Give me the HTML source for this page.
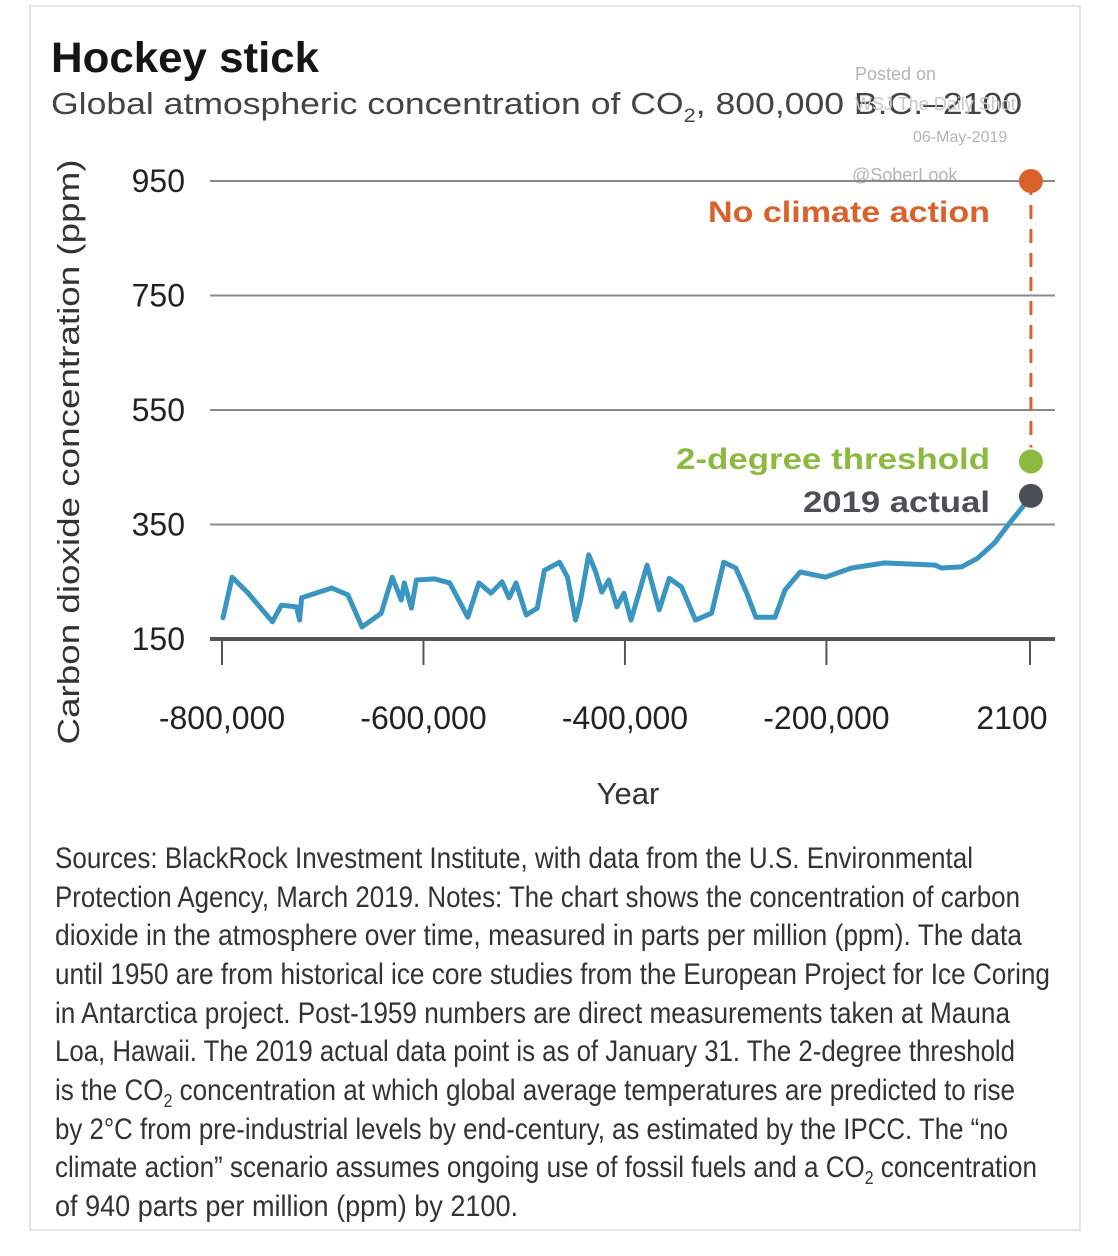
<!DOCTYPE html>
<html><head><meta charset="utf-8"><style>
html,body{margin:0;padding:0;background:#fff;}
svg{display:block;font-family:"Liberation Sans",sans-serif;}
</style></head><body>
<svg id="chart" width="1118" height="1256" viewBox="0 0 1118 1256" xmlns="http://www.w3.org/2000/svg">
<rect x="30" y="6" width="1050" height="1224" fill="#fff" stroke="#e4e4e4" stroke-width="2"/>
<text x="51" y="72" font-size="43" fill="#151515" font-weight="bold" textLength="268" lengthAdjust="spacingAndGlyphs">Hockey stick</text>
<text x="51" y="114" font-size="31" fill="#444" textLength="971" lengthAdjust="spacingAndGlyphs">Global atmospheric concentration of CO<tspan font-size="19" dy="8">2</tspan><tspan dy="-8">, 800,000 B.C.–2100</tspan></text>
<g fill="#b4b4b4" font-size="18">
<text x="855" y="80">Posted on</text>
<text x="855" y="110" fill="#c8c8c8">WSJ The Daily Shot</text>
<text x="913" y="142" font-size="16">06-May-2019</text>
<text x="852" y="181">@SoberLook</text>
</g>
<g id="grid"></g>
<g id="yticks" font-size="32" fill="#222" text-anchor="end"></g>
<g id="xticks" font-size="32" fill="#222" text-anchor="middle"></g>
<text transform="translate(79,452) rotate(-90)" text-anchor="middle" font-size="31" fill="#333" textLength="585" lengthAdjust="spacingAndGlyphs">Carbon dioxide concentration (ppm)</text>
<text x="628" y="804" text-anchor="middle" font-size="31" fill="#333">Year</text>
<g id="series"></g>
<g id="markers"></g>
<g font-size="30" font-weight="bold">
<text x="708" y="222" fill="#d9622b" textLength="282" lengthAdjust="spacingAndGlyphs">No climate action</text>
<text x="676" y="469" fill="#8cba3f" textLength="314" lengthAdjust="spacingAndGlyphs">2-degree threshold</text>
<text x="803" y="512" fill="#4b5057" textLength="187" lengthAdjust="spacingAndGlyphs">2019 actual</text>
</g>
<g font-size="29.5" fill="#333">
<text x="55" y="868" textLength="918" lengthAdjust="spacingAndGlyphs">Sources: BlackRock Investment Institute, with data from the U.S. Environmental</text>
<text x="55" y="907" textLength="965" lengthAdjust="spacingAndGlyphs">Protection Agency, March 2019. Notes: The chart shows the concentration of carbon</text>
<text x="55" y="945" textLength="967" lengthAdjust="spacingAndGlyphs">dioxide in the atmosphere over time, measured in parts per million (ppm). The data</text>
<text x="55" y="984" textLength="995" lengthAdjust="spacingAndGlyphs">until 1950 are from historical ice core studies from the European Project for Ice Coring</text>
<text x="55" y="1023" textLength="955" lengthAdjust="spacingAndGlyphs">in Antarctica project. Post-1959 numbers are direct measurements taken at Mauna</text>
<text x="55" y="1061" textLength="960" lengthAdjust="spacingAndGlyphs">Loa, Hawaii. The 2019 actual data point is as of January 31. The 2-degree threshold</text>
<text x="55" y="1100" textLength="960" lengthAdjust="spacingAndGlyphs">is the CO<tspan font-size="18" dy="7">2</tspan><tspan dy="-7"> concentration at which global average temperatures are predicted to rise</tspan></text>
<text x="55" y="1139" textLength="953" lengthAdjust="spacingAndGlyphs">by 2°C from pre-industrial levels by end-century, as estimated by the IPCC. The “no</text>
<text x="55" y="1177" textLength="982" lengthAdjust="spacingAndGlyphs">climate action” scenario assumes ongoing use of fossil fuels and a CO<tspan font-size="18" dy="7">2</tspan><tspan dy="-7"> concentration</tspan></text>
<text x="55" y="1216" textLength="463" lengthAdjust="spacingAndGlyphs">of 940 parts per million (ppm) by 2100.</text>
</g>
</svg>
<script>
const yTicks = [150, 350, 550, 750, 950];
const xTicks = [-800000, -600000, -400000, -200000, 2100];
const xTickLabels = ["-800,000", "-600,000", "-400,000", "-200,000", "2100"];
const years = [-799,-790,-774,-750,-741,-726,-723,-721,-691,-675,-661,-642,-631,-622,-619,-612,-607,-589,-574,-556,-545,-533,-522,-515,-508,-498,-487,-480,-465,-457,-449,-444,-436,-429,-423,-416,-408,-401,-394,-378,-366,-356,-344,-330,-314,-302,-290,-279,-270,-251,-241,-226,-201,-175,-142,-92,-86,-66,-50,-33,-18,-5,2.019];
const ppm = [187,258,230,180,209,206,183,222,239,227,171,195,258,218,248,204,253,255,248,188,248,230,250,222,248,192,204,270,284,258,183,218,297,267,232,253,206,230,183,279,201,256,241,183,195,284,274,230,188,188,236,267,258,274,283,279,274,276,291,318,353,381,400];
const markerNames = ["no-climate-action-dot", "two-degree-dot", "actual-2019-dot"];
const markerValues = [950, 460, 400];
const markerColors = ["#d9622b", "#8cba3f", "#4b5057"];

const NS = "http://www.w3.org/2000/svg";
function X(yearK){ return 222 + (yearK*1000 + 800000) * (1030-222) / 802100; }
function Y(v){ return 639 - (v - 150) * (639-181) / 800; }
function mk(tag, attrs, parent){ const e=document.createElementNS(NS,tag); for(const k in attrs) e.setAttribute(k,attrs[k]); parent.appendChild(e); return e; }

const grid=document.getElementById('grid'), yt=document.getElementById('yticks'), xt=document.getElementById('xticks');
yTicks.forEach((v,i)=>{
  const l=mk('line',{x1:210,x2:1055,y1:Y(v),y2:Y(v),stroke:i===0?'#555':'#8a8a8a','stroke-width':i===0?4:2},grid);
  
  
  const t=mk('text',{x:185,y:Y(v)+11},yt); t.textContent=v;
  
  
});
xTicks.forEach((v,i)=>{
  const x=X(v/1000);
  const l=mk('line',{x1:x,x2:x,y1:639,y2:665,stroke:'#555','stroke-width':2},grid);
  
  
  const t=mk('text',{x:i===4?1012:x,y:729},xt); t.textContent=xTickLabels[i];
  
  
});
const series=document.getElementById('series');
const d=years.map((yr,i)=>(i?'L':'M')+X(yr).toFixed(1)+' '+Y(ppm[i]).toFixed(1)).join(' ');
const p=mk('path',{d:d,fill:'none',stroke:'#3a95c1','stroke-width':5,'stroke-linejoin':'round','stroke-linecap':'round'},series);


const markers=document.getElementById('markers');
const mx=X(years[years.length-1])+1;
const dl=mk('line',{x1:mx,x2:mx,y1:Y(markerValues[0]),y2:Y(markerValues[1])-14,stroke:'#d9622b','stroke-width':3,'stroke-dasharray':'14 10'},markers);


markerValues.forEach((v,i)=>{
  const c=mk('circle',{cx:mx,cy:Y(v),r:12,fill:markerColors[i]},markers);
  
  
});
</script>
</body></html>
